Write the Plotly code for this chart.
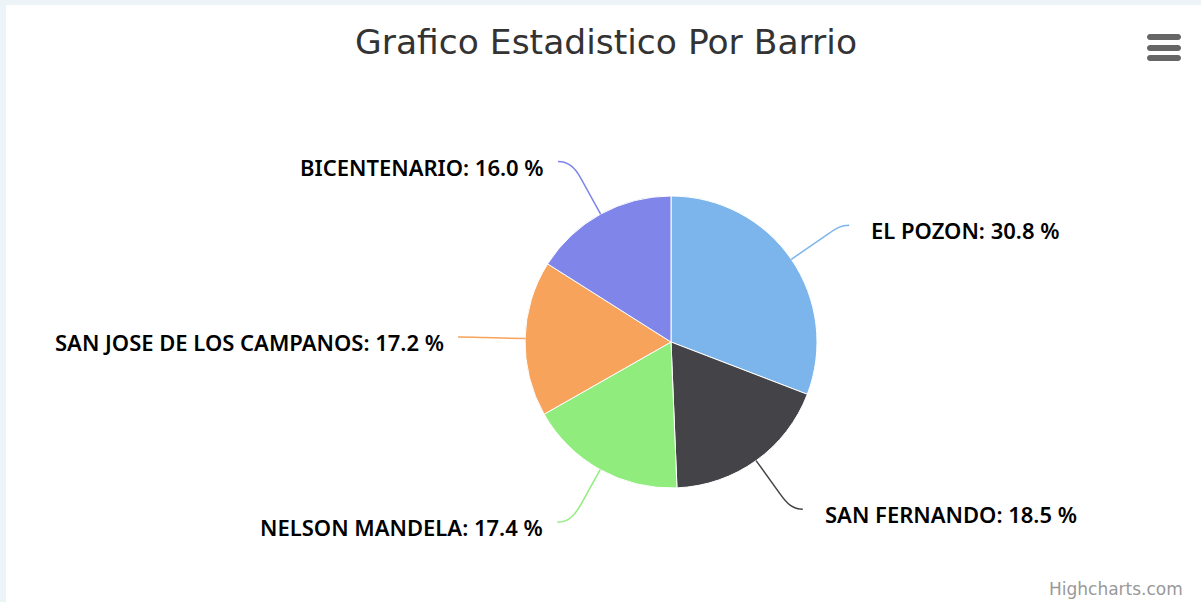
import math
import plotly.graph_objects as go

# ---- data ----
categories = ["EL POZON", "SAN FERNANDO", "NELSON MANDELA", "SAN JOSE DE LOS CAMPANOS", "BICENTENARIO"]
percentages = [30.8, 18.5, 17.4, 17.2, 16.0]
colors = ["#7cb5ec", "#434348", "#90ed7d", "#f7a35c", "#8085e9"]
title_text = "Grafico Estadistico Por Barrio"
credit_text = "Highcharts.com"

# ---- geometry (pixels) ----
W, H = 1201, 602
CX, CY, R = 671, 342, 146
LABEL_R_Y = R + 60
LABEL_R_X = 213
BREAK = 40

fig = go.Figure()

fig.add_trace(go.Pie(
    labels=categories, values=percentages,
    marker=dict(colors=colors, line=dict(color="#ffffff", width=1)),
    sort=False, direction="clockwise", rotation=0,
    textinfo="none", hoverinfo="label+percent", showlegend=False,
    domain=dict(x=[(CX - R) / W, (CX + R) / W], y=[1 - (CY + R) / H, 1 - (CY - R) / H]),
))

shapes = []
annotations = []

# background frame
shapes.append(dict(type="rect", xref="x", yref="y", x0=6, x1=W, y0=5, y1=H,
                   fillcolor="#ffffff", line=dict(width=0), layer="below"))

total = sum(percentages)
cum = 0.0
for name, val, col in zip(categories, percentages, colors):
    mid = (cum + val / 2) / total * 2 * math.pi
    cum += val
    sx, sy = math.sin(mid), -math.cos(mid)
    tx, ty = CX + R * sx, CY + R * sy
    bx, by = CX + (R + BREAK) * sx, CY + (R + BREAK) * sy
    ly = CY + LABEL_R_Y * sy
    dy = ly - CY
    right = sx >= 0
    dx = math.sqrt(max(LABEL_R_X ** 2 - dy ** 2, 0))
    lx = CX + dx if right else CX - dx
    c1x = lx - 10 if right else lx + 10
    c2x, c2y = bx + sx * 14, by + sy * 14
    path = f"M {lx:.1f},{ly:.1f} C {c1x:.1f},{ly:.1f} {c2x:.1f},{c2y:.1f} {bx:.1f},{by:.1f} L {tx:.1f},{ty:.1f}"
    shapes.append(dict(type="path", xref="x", yref="y", path=path,
                       line=dict(color=col, width=1.5)))
    annotations.append(dict(
        x=lx + 20 if right else lx - 12, y=ly + 5, xref="x", yref="y",
        text=f"{name}: {val:.1f} %", showarrow=False,
        xanchor="left" if right else "right", yanchor="middle",
        font=dict(family="Noto Sans", size=22, color="#000000", weight=600),
    ))

# title
annotations.append(dict(x=606, y=42, xref="x", yref="y", text=title_text, showarrow=False,
                        xanchor="center", yanchor="middle",
                        font=dict(family="DejaVu Sans", size=34.5, color="#333333")))
# credit
annotations.append(dict(x=1185, y=589, xref="x", yref="y", text=credit_text, showarrow=False,
                        xanchor="right", yanchor="middle",
                        font=dict(family="DejaVu Sans", size=17, color="#999999")))

# hamburger menu icon
for yy in (37, 48, 58):
    x0, x1 = 1147, 1181
    h = 3
    p = (f"M {x0+h},{yy-h} L {x1-h},{yy-h} C {x1+1},{yy-h} {x1+1},{yy+h} {x1-h},{yy+h} "
         f"L {x0+h},{yy+h} C {x0-1},{yy+h} {x0-1},{yy-h} {x0+h},{yy-h} Z")
    shapes.append(dict(type="path", xref="x", yref="y", path=p,
                       fillcolor="#666666", line=dict(width=0)))

fig.update_layout(
    width=W, height=H, margin=dict(l=0, r=0, t=0, b=0),
    paper_bgcolor="#edf4f8", plot_bgcolor="rgba(0,0,0,0)",
    xaxis=dict(range=[0, W], visible=False, fixedrange=True),
    yaxis=dict(range=[H, 0], visible=False, fixedrange=True),
    shapes=shapes, annotations=annotations,
)

fig.write_html(
    "out.html",
    config=dict(displayModeBar=False),
    post_script="document.body.style.margin='0';document.body.style.overflow='hidden';",
)
